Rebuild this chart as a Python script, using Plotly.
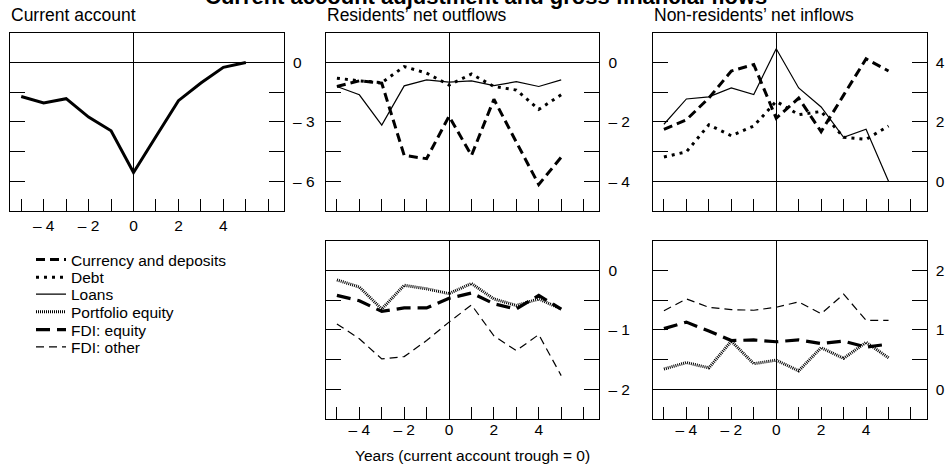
import plotly.graph_objects as go

# ---------------- data ----------------
years = [-5, -4, -3, -2, -1, 0, 1, 2, 3, 4, 5]

current_account = [-1.72, -2.05, -1.83, -2.76, -3.45, -5.56, -3.74, -1.93, -1.04, -0.25, 0.0]

res_currency = [-0.81, -0.62, -0.70, -3.13, -3.24, -1.81, -3.13, -1.24, -2.68, -4.11, -3.19]
res_debt = [-0.53, -0.62, -0.68, -0.14, -0.36, -0.76, -0.39, -0.81, -0.93, -1.58, -1.09]
res_loans = [-0.81, -1.09, -2.11, -0.79, -0.59, -0.66, -0.62, -0.78, -0.65, -0.81, -0.59]

nonres_currency = [1.75, 2.07, 2.80, 3.71, 3.93, 2.12, 2.80, 1.67, 2.90, 4.12, 3.71]
nonres_debt = [0.82, 0.99, 1.90, 1.53, 1.86, 2.69, 2.24, 2.35, 1.48, 1.41, 1.86]
nonres_loans = [1.92, 2.77, 2.84, 3.14, 2.92, 4.46, 3.14, 2.50, 1.48, 1.75, 0.0]

res_portfolio = [-0.16, -0.28, -0.65, -0.25, -0.31, -0.39, -0.22, -0.48, -0.59, -0.48, -0.65]
res_fdi_equity = [-0.42, -0.51, -0.69, -0.63, -0.63, -0.47, -0.38, -0.56, -0.65, -0.42, -0.65]
res_fdi_other = [-0.90, -1.15, -1.49, -1.45, -1.18, -0.87, -0.58, -1.10, -1.35, -1.08, -1.77]

nonres_portfolio = [0.34, 0.45, 0.36, 0.81, 0.43, 0.49, 0.31, 0.70, 0.52, 0.79, 0.53]
nonres_fdi_equity = [1.02, 1.13, 0.98, 0.82, 0.83, 0.80, 0.83, 0.77, 0.81, 0.71, 0.76]
nonres_fdi_other = [1.32, 1.52, 1.38, 1.34, 1.33, 1.38, 1.47, 1.27, 1.60, 1.16, 1.16]

x_tick_vals = [-4, -2, 0, 2, 4]
x_tick_text = ["\u2013 4", "\u2013 2", "0", "2", "4"]

panel_titles = ["Current account", "Residents\u2019 net outflows", "Non-residents\u2019 net inflows"]
main_title = "Current account adjustment and gross financial flows"
x_title = "Years (current account trough = 0)"

# ---------------- styles ----------------
FONT = "Liberation Sans, Arial, Helvetica, sans-serif"
W, H = 945, 468

styles = {
    "Currency and deposits": dict(color="black", width=3, dash="9px,5px"),
    "Debt": dict(color="black", width=3, dash="3px,5px"),
    "Loans": dict(color="black", width=1.2),
    "Portfolio equity": dict(color="black", width=3, dash="1px,1px"),
    "FDI: equity": dict(color="black", width=3.2, dash="14px,7px"),
    "FDI: other": dict(color="black", width=1.2, dash="8px,5px"),
}
legend_names = list(styles.keys())
legend_ids = ["legend", "legend2", "legend3", "legend4", "legend5", "legend6"]
legend_ypx = [260, 277.7, 294.6, 312.3, 330, 347.3]

fig = go.Figure()

def add(y, name, ax, show):
    idx = legend_names.index(name)
    fig.add_trace(go.Scatter(
        x=years, y=y, mode="lines", name=name, line=styles[name],
        xaxis="x" + ax, yaxis="y" + ax, showlegend=show,
        legend=legend_ids[idx], hoverinfo="skip"))

# panel 1
fig.add_trace(go.Scatter(x=years, y=current_account, mode="lines",
                         line=dict(color="black", width=3), showlegend=False,
                         xaxis="x", yaxis="y", hoverinfo="skip"))
# panel 2: residents, top
add(res_loans, "Loans", "2", True)
add(res_debt, "Debt", "2", True)
add(res_currency, "Currency and deposits", "2", True)
# panel 3: non-residents, top
add(nonres_loans, "Loans", "3", False)
add(nonres_debt, "Debt", "3", False)
add(nonres_currency, "Currency and deposits", "3", False)
# panel 4: residents, bottom
add(res_fdi_other, "FDI: other", "4", True)
add(res_portfolio, "Portfolio equity", "4", True)
add(res_fdi_equity, "FDI: equity", "4", True)
# panel 5: non-residents, bottom
add(nonres_fdi_other, "FDI: other", "5", False)
add(nonres_portfolio, "Portfolio equity", "5", False)
add(nonres_fdi_equity, "FDI: equity", "5", False)

# ---------------- layout ----------------
def px_x(a, b):
    return [a / W, b / W]

def px_y(top, bottom):
    return [1 - bottom / H, 1 - top / H]

xdom = {"": px_x(10, 284), "2": px_x(325.7, 599.3), "3": px_x(652.7, 926.7),
        "4": px_x(325.7, 599.3), "5": px_x(652.7, 926.7)}
ydom = {"": px_y(32.7, 211), "2": px_y(32.7, 211), "3": px_y(32.7, 211),
        "4": px_y(240.7, 419), "5": px_y(240.7, 419)}
show_xlabels = {"": True, "2": False, "3": False, "4": True, "5": True}
x_standoff = {"": 0, "2": 0, "3": 0, "4": -4, "5": -4}

yspec = {
    "": dict(range=[-7.5, 1.5], tickvals=[-6, -4.5, -3, -1.5, 0, 1.5],
             ticktext=["\u2013 6", "", "\u2013 3", "", "0", ""]),
    "2": dict(range=[-5, 1], tickvals=[-4, -3, -2, -1, 0, 1],
              ticktext=["\u2013 4", "", "\u2013 2", "", "0", ""]),
    "3": dict(range=[-1, 5], tickvals=[0, 1, 2, 3, 4, 5],
              ticktext=["0", "", "2", "", "4", ""]),
    "4": dict(range=[-2.5, 0.5], tickvals=[-2, -1.5, -1, -0.5, 0, 0.5],
              ticktext=["\u2013 2", "", "\u2013 1", "", "0", ""]),
    "5": dict(range=[-0.5, 2.5], tickvals=[0, 0.5, 1, 1.5, 2, 2.5],
              ticktext=["0", "", "1", "", "2", ""]),
}

XR = [-5.5, 6.7]
layout = dict(
    width=W, height=H, margin=dict(l=0, r=0, t=0, b=0),
    paper_bgcolor="white", plot_bgcolor="white",
    font=dict(family=FONT, size=15.5, color="black"),
    annotations=[],
)

overlay_n = 6
for k in ["", "2", "3", "4", "5"]:
    layout["xaxis" + k] = dict(
        domain=xdom[k], anchor="y" + k, range=XR, fixedrange=True,
        showline=True, linecolor="black", linewidth=1, mirror=True,
        ticks="inside", ticklen=12, tickwidth=1, tickcolor="black",
        tickmode="array", tickvals=x_tick_vals, ticktext=x_tick_text,
        showticklabels=show_xlabels[k], tickfont=dict(size=15.5),
        ticklabelstandoff=x_standoff[k],
        minor=dict(dtick=1, tick0=0, ticks="inside", ticklen=12,
                   tickwidth=1, tickcolor="black", showgrid=False),
        showgrid=False, zeroline=True, zerolinecolor="black", zerolinewidth=1,
    )
    layout["xaxis%d" % overlay_n] = dict(
        overlaying="x" + k, anchor="y" + k, range=XR, fixedrange=True,
        side="bottom", showline=False, showgrid=False, zeroline=False,
        ticks="inside", ticklen=23, tickwidth=1.5, tickcolor="black",
        tickmode="array", tickvals=[-5, 0, 5], showticklabels=False,
    )
    overlay_n += 1
    ys = yspec[k]
    layout["yaxis" + k] = dict(
        domain=ydom[k], anchor="x" + k, side="right", range=ys["range"],
        fixedrange=True, tickmode="array", tickvals=ys["tickvals"],
        ticktext=ys["ticktext"], ticks="inside", ticklen=15, tickwidth=1,
        tickcolor="black", showline=True, linecolor="black", linewidth=1,
        mirror="ticks", showgrid=False, zeroline=True, zerolinecolor="black",
        zerolinewidth=1, tickfont=dict(size=15.5), ticklabelstandoff=5,
    )

for i, lid in enumerate(legend_ids):
    layout[lid] = dict(
        x=31 / W, y=1 - legend_ypx[i] / H, xanchor="left", yanchor="middle",
        bgcolor="rgba(0,0,0,0)", borderwidth=0, font=dict(size=15.5),
        itemwidth=30,
    )

ann = layout["annotations"]
ann.append(dict(text="<b>" + main_title + "</b>", xref="paper", yref="paper",
                x=486 / W, y=1, xanchor="center", yanchor="bottom", yshift=-11.5,
                showarrow=False, font=dict(size=22)))
for t, xpx in zip(panel_titles, [9, 325, 652]):
    ann.append(dict(text=t, xref="paper", yref="paper", x=xpx / W,
                    y=1 - 14.5 / H, xanchor="left", yanchor="middle",
                    showarrow=False, font=dict(size=17.5)))
ann.append(dict(text=x_title, xref="paper", yref="paper", x=0.5,
                y=1 - 455 / H, xanchor="center", yanchor="middle",
                showarrow=False, font=dict(size=15.5)))

fig.update_layout(layout)
fig.write_html("out.html", config={"displayModeBar": False},
               post_script="document.body.style.margin='0';document.body.style.overflow='hidden';")
